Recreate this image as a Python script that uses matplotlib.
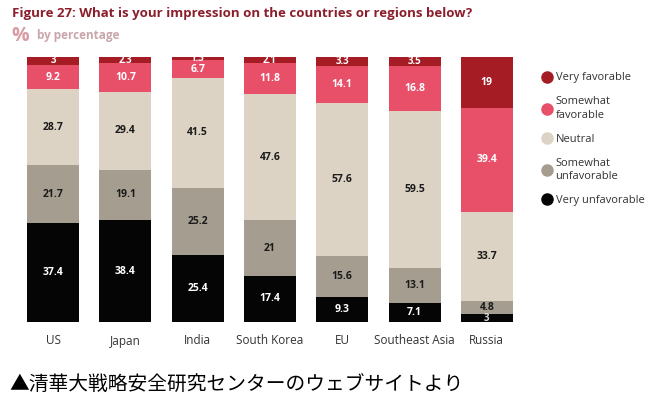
import matplotlib
import numpy as np

matplotlib.use("Agg")

import matplotlib.pyplot as plt
from matplotlib.lines import Line2D

plt.rcParams["font.family"] = ["Open Sans", "DejaVu Sans"]

REGIONS = ["US", "Japan", "India", "South Korea", "EU", "Southeast Asia", "Russia"]
VERY_UNFAV = [37.4, 38.4, 25.4, 17.4, 9.3, 7.1, 3]
SOMEWHAT_UNFAV = [21.7, 19.1, 25.2, 21, 15.6, 13.1, 4.8]
NEUTRAL = [28.7, 29.4, 41.5, 47.6, 57.6, 59.5, 33.7]
SOMEWHAT_FAV = [9.2, 10.7, 6.7, 11.8, 14.1, 16.8, 39.4]
VERY_FAV = [3, 2.3, 1.3, 2.1, 3.3, 3.5, 19]

SERIES = [
    ("Very unfavorable", VERY_UNFAV, "#050505", "white"),
    ("Somewhat\nunfavorable", SOMEWHAT_UNFAV, "#a59d90", "#1a1a1a"),
    ("Neutral", NEUTRAL, "#ddd3c4", "#1a1a1a"),
    ("Somewhat\nfavorable", SOMEWHAT_FAV, "#e8506a", "white"),
    ("Very favorable", VERY_FAV, "#a51c24", "white"),
]

W, H = 647, 399
fig = plt.figure(figsize=(W / 100, H / 100), dpi=100)
ax = fig.add_axes([17 / W, (H - 322) / H, 506 / W, 265 / H])

x = np.arange(len(REGIONS))
bottom = np.zeros(len(REGIONS))
for name, vals, color, tcol in SERIES:
    vals = np.array(vals, dtype=float)
    ax.bar(x, vals, 0.72, bottom=bottom, color=color, linewidth=0)
    for xi, b, v in zip(x, bottom, vals):
        fs = 7.5 if v >= 4 else 7
        c = "#dddddd" if (v < 4 and name == "Very unfavorable") else tcol
        ax.text(xi, b + v / 2, f"{v:g}", ha="center", va="center",
                fontsize=fs, fontweight="bold", color=c)
    bottom += vals

ax.set_xlim(-0.5, len(REGIONS) - 0.5)
ax.set_ylim(0, 100)
ax.set_xticks(x)
ax.set_xticklabels(REGIONS, fontsize=8.5, color="#333333")
ax.tick_params(axis="x", length=0, pad=9)
ax.set_yticks([])
for s in ax.spines.values():
    s.set_visible(False)

handles = [Line2D([], [], marker="o", linestyle="", markersize=8,
                  markerfacecolor=c, markeredgecolor=c, label=n)
           for n, _, c, _ in reversed(SERIES)]
leg = fig.legend(handles=handles, loc="upper left", bbox_to_anchor=(535 / W, 1 - 68 / H),
                 frameon=False, fontsize=8, handletextpad=0.05, labelspacing=1.15,
                 labelcolor="#333333", borderaxespad=0, handlelength=1.4)
for t in leg.get_texts():
    t.set_linespacing(1.35)

fig.text(12 / W, 1 - 13 / H,
         "Figure 27: What is your impression on the countries or regions below?",
         fontsize=9.5, fontweight="bold", color="#8b1e2b", va="center")
fig.text(11 / W, 1 - 36 / H, "%", fontsize=14, fontweight="bold",
         color="#d99aa4", va="center")
fig.text(37 / W, 1 - 35 / H, "by percentage", fontsize=8.5, fontweight="bold",
         color="#c9a6ab", va="center")

fig.text(9 / W, 1 - 385 / H, "▲清華大戦略安全研究センターのウェブサイトより",
         fontsize=14.2, color="black", va="center",
         family=["Noto Sans CJK JP", "DejaVu Sans"])

fig.savefig("out.png", dpi=100, facecolor="white")
